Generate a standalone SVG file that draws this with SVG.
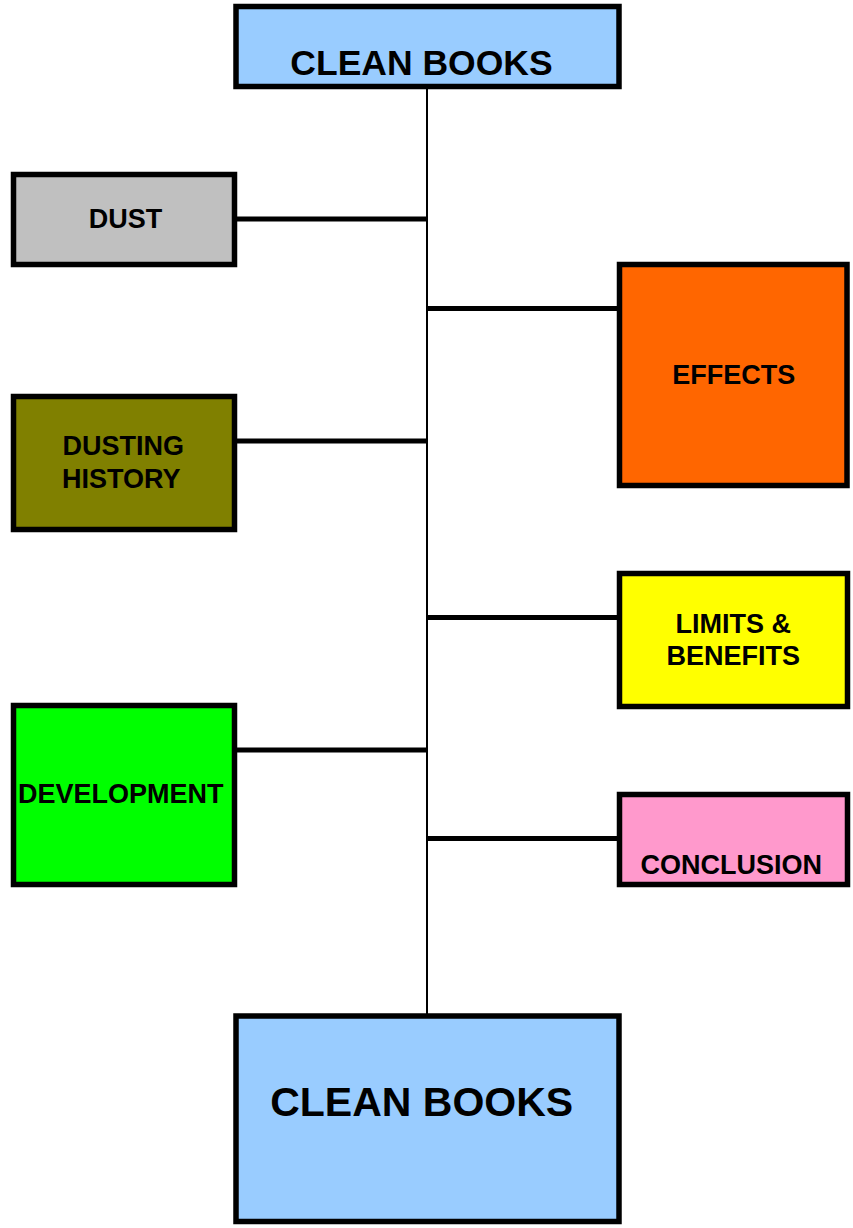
<svg xmlns="http://www.w3.org/2000/svg" width="853" height="1228" viewBox="0 0 853 1228">
<style>
.box{stroke:#000;stroke-width:5.5}
.lbl{font-family:"Liberation Sans",Arial,sans-serif;font-weight:bold;font-size:27px;fill:#000;text-anchor:middle}
.conn{stroke:#000;stroke-width:5;fill:none}
.trunk{stroke:#000;stroke-width:2;fill:none}
</style>
<rect width="853" height="1228" fill="#fff"/>
<g id="connectors">
<line class="trunk" x1="427" y1="89" x2="427" y2="1014"/>
<line class="conn" x1="237" y1="219" x2="427" y2="219"/>
<line class="conn" x1="427" y1="308.5" x2="617" y2="308.5"/>
<line class="conn" x1="237" y1="441" x2="427" y2="441"/>
<line class="conn" x1="427" y1="617.5" x2="617" y2="617.5"/>
<line class="conn" x1="237" y1="750" x2="427" y2="750"/>
<line class="conn" x1="427" y1="838.5" x2="617" y2="838.5"/>
</g>
<g id="top">
<rect class="box" x="236" y="6.5" width="383" height="80" fill="#99ccff"/>
<text class="lbl" x="421.5" y="74.5" style="font-size:35.5px">CLEAN BOOKS</text>
</g>
<g id="dust">
<rect class="box" x="13.5" y="174.5" width="221" height="90" fill="#c0c0c0"/>
<text class="lbl" x="125.5" y="228">DUST</text>
</g>
<g id="history">
<rect class="box" x="13.5" y="396.5" width="221" height="133" fill="#808000"/>
<text class="lbl" x="123.3" y="455">DUSTING</text>
<text class="lbl" x="121.3" y="487.7">HISTORY</text>
</g>
<g id="development">
<rect class="box" x="13.5" y="705.5" width="221" height="179" fill="#00ff00"/>
<text class="lbl" x="120.8" y="803.3">DEVELOPMENT</text>
</g>
<g id="effects">
<rect class="box" x="619.5" y="264.5" width="227.5" height="221" fill="#ff6600"/>
<text class="lbl" x="733.7" y="384">EFFECTS</text>
</g>
<g id="limits">
<rect class="box" x="619.5" y="573.5" width="228" height="133" fill="#ffff00"/>
<text class="lbl" x="733.3" y="633.3">LIMITS &amp;</text>
<text class="lbl" x="733.3" y="665">BENEFITS</text>
</g>
<g id="conclusion">
<rect class="box" x="619.5" y="794.5" width="228" height="90" fill="#ff99cc"/>
<text class="lbl" x="731.2" y="874.3">CONCLUSION</text>
</g>
<g id="bottom">
<rect class="box" x="236" y="1016" width="383" height="205.5" fill="#99ccff"/>
<text class="lbl" x="421.7" y="1116" style="font-size:41px">CLEAN BOOKS</text>
</g>
</svg>
